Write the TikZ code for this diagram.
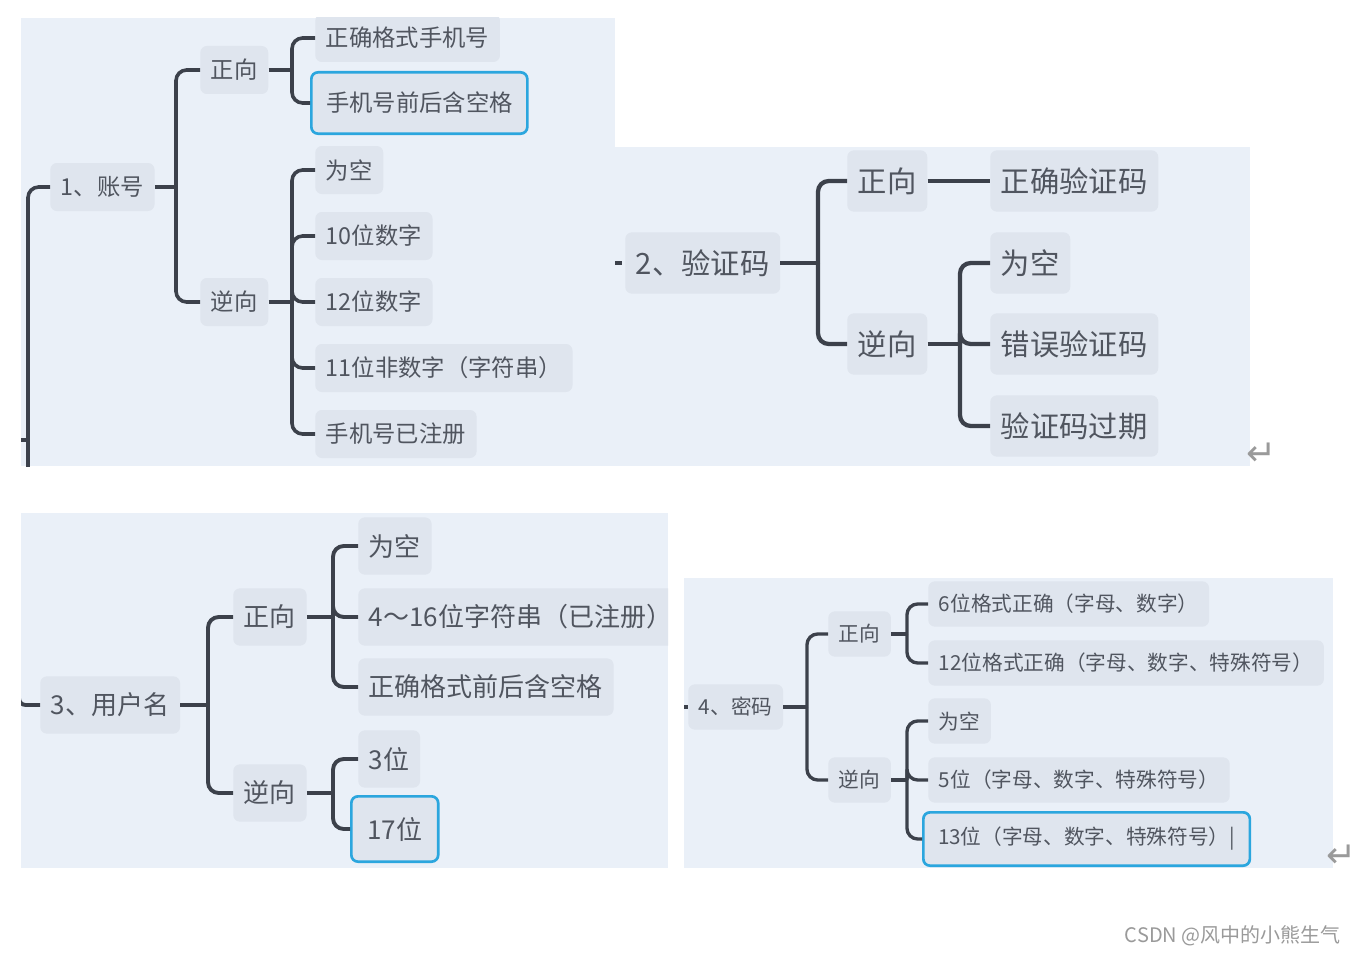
\documentclass[tikz,border=0pt]{standalone}
\usepackage{fontspec}
\setmainfont{Noto Sans CJK SC}
\newfontfamily\symfont{DejaVu Sans}
\usetikzlibrary{positioning}
\definecolor{panel}{HTML}{EAF0F8}
\definecolor{boxbg}{HTML}{DFE5EE}
\definecolor{ink}{HTML}{50555F}
\definecolor{wire}{HTML}{3C414B}
\definecolor{hlblue}{HTML}{2BA6DE}
\definecolor{faint}{HTML}{9A9A9A}

\begin{document}
\begin{tikzpicture}[x=0.75pt, y=-0.75pt,
  bx/.style={fill=boxbg, text=ink, rounded corners=5pt, anchor=west,
             inner xsep=8pt, inner ysep=0pt},
  hl/.style={draw=hlblue, line width=2pt, inner xsep=11pt},
  link/.style={draw=wire, line width=2.7pt, rounded corners=8pt},
  dimtext/.style={text=faint, inner sep=0pt}]
  \useasboundingbox[fill=white] (0,0) rectangle (1357,956);

  % 1, account
  \begin{scope}[font=\fontsize{17.5}{20}\selectfont,
                every node/.append style={minimum height=36pt}]
    \fill[panel] (21,18) rectangle (615,466);
    \clip (21,18) rectangle (615,466);
    \node[bx] (acct) at (50,187) {1、账号};
    \node[bx] (fwdA) at (200,70) {正向};
    \node[bx] (revA) at (200,302) {逆向};
    \node[bx] (a1) at (315,38) {正确格式手机号};
    \node[bx, hl, minimum height=46pt] (a2) at (310,103) {手机号前后含空格};
    \node[bx] (a3) at (315,170) {为空};
    \node[bx] (a4) at (315,236) {10位数字};
    \node[bx] (a5) at (315,302) {12位数字};
    \node[bx] (a6) at (315,368) {11位非数字（字符串）};
    \node[bx] (a7) at (315,434) {手机号已注册};
    \coordinate (inA) at (28,470);
    \coordinate (tkA) at (21,440);
    \coordinate (jA) at (176,187);
    \coordinate (jAf) at (292,70);
    \coordinate (jAr) at (292,302);
    \draw[link] (inA) |- (acct.west);
    \draw[link] (tkA) -- (tkA -| inA);
    \draw[link] (acct.east) -- (jA);
    \foreach \n in {fwdA,revA} {\draw[link] (jA) |- (\n.west);}
    \draw[link] (fwdA.east) -- (jAf);
    \foreach \n in {a1,a2} {\draw[link] (jAf) |- (\n.west);}
    \draw[link] (revA.east) -- (jAr);
    \foreach \n in {a3,a4,a5,a6,a7} {\draw[link] (jAr) |- (\n.west);}
  \end{scope}

  % 2, verification code
  \begin{scope}[font=\fontsize{22}{24}\selectfont,
                every node/.append style={minimum height=46pt, inner xsep=10pt},
                link/.append style={line width=3.2pt}]
    \fill[panel] (615,147) rectangle (1250,466);
    \clip (615,147) rectangle (1250,466);
    \node[bx] (code) at (625,263) {2、验证码};
    \node[bx] (fwdB) at (847,181) {正向};
    \node[bx] (revB) at (847,344) {逆向};
    \node[bx] (b1) at (990,181) {正确验证码};
    \node[bx] (b2) at (990,263) {为空};
    \node[bx] (b3) at (990,344) {错误验证码};
    \node[bx] (b4) at (990,426) {验证码过期};
    \coordinate (tkB) at (615,263);
    \coordinate (jB) at (818,263);
    \coordinate (jBr) at (960,344);
    \draw[link] (tkB) -- ++(7,0);
    \draw[link] (code.east) -- (jB);
    \foreach \n in {fwdB,revB} {\draw[link] (jB) |- (\n.west);}
    \draw[link] (fwdB.east) -- (b1.west);
    \draw[link] (revB.east) -- (jBr);
    \foreach \n in {b2,b3,b4} {\draw[link] (jBr) |- (\n.west);}
  \end{scope}

  % 3, user name
  \begin{scope}[font=\fontsize{19.5}{22}\selectfont,
                every node/.append style={minimum height=43pt},
                link/.append style={line width=2.9pt}]
    \fill[panel] (21,513) rectangle (668,868);
    \clip (21,513) rectangle (668,868);
    \node[bx] (user) at (40,705) {3、用户名};
    \node[bx] (fwdC) at (233,617) {正向};
    \node[bx] (revC) at (233,793) {逆向};
    \node[bx] (c1) at (358,546) {为空};
    \node[bx] (c2) at (358,617) {4～16位字符串（已注册）};
    \node[bx] (c3) at (358,687) {正确格式前后含空格};
    \node[bx] (c4) at (358,759) {3位};
    \node[bx, hl, minimum height=49pt, inner xsep=12pt] (c5) at (350,829) {17位};
    \coordinate (inC) at (19,698);
    \coordinate (jC) at (208,705);
    \coordinate (jCf) at (333,617);
    \coordinate (jCr) at (333,793);
    \draw[link, rounded corners=5pt] (inC) |- (user.west);
    \draw[link] (user.east) -- (jC);
    \foreach \n in {fwdC,revC} {\draw[link] (jC) |- (\n.west);}
    \draw[link] (fwdC.east) -- (jCf);
    \foreach \n in {c1,c2,c3} {\draw[link] (jCf) |- (\n.west);}
    \draw[link] (revC.east) -- (jCr);
    \foreach \n in {c4,c5} {\draw[link] (jCr) |- (\n.west);}
  \end{scope}

  % 4, password
  \begin{scope}[font=\fontsize{15.5}{18}\selectfont,
                every node/.append style={minimum height=34pt, inner xsep=7.5pt},
                link/.append style={line width=2.5pt}]
    \fill[panel] (684,578) rectangle (1333,868);
    \clip (684,578) rectangle (1333,868);
    \node[bx] (pwd) at (688,707) {4、密码};
    \node[bx] (fwdD) at (828,634) {正向};
    \node[bx] (revD) at (828,780) {逆向};
    \node[bx] (d1) at (928,604) {6位格式正确（字母、数字）};
    \node[bx] (d2) at (928,663) {12位格式正确（字母、数字、特殊符号）};
    \node[bx] (d3) at (928,721) {为空};
    \node[bx] (d4) at (928,780) {5位（字母、数字、特殊符号）};
    \node[bx, hl, minimum height=40pt, inner xsep=11pt] (d5) at (922,839)
      {13位（字母、数字、特殊符号）|};
    \coordinate (tkD) at (684,707);
    \coordinate (jD) at (807,707);
    \coordinate (jDf) at (907,634);
    \coordinate (jDr) at (907,780);
    \draw[link] (tkD) -- (pwd.west);
    \draw[link] (pwd.east) -- (jD);
    \foreach \n in {fwdD,revD} {\draw[link] (jD) |- (\n.west);}
    \draw[link] (fwdD.east) -- (jDf);
    \foreach \n in {d1,d2} {\draw[link] (jDf) |- (\n.west);}
    \draw[link] (revD.east) -- (jDr);
    \foreach \n in {d3,d4,d5} {\draw[link] (jDr) |- (\n.west);}
  \end{scope}

  \node[dimtext, font=\symfont\fontsize{27}{27}\selectfont] (ret1) at (1262,454) {↵};
  \node[dimtext, font=\symfont\fontsize{27}{27}\selectfont] (ret2) at (1342,856) {↵};
  \node[dimtext, font=\fontsize{15}{15}\selectfont, anchor=east] (credit) at (1341,936)
    {CSDN @风中的小熊生气};
\end{tikzpicture}
\end{document}
